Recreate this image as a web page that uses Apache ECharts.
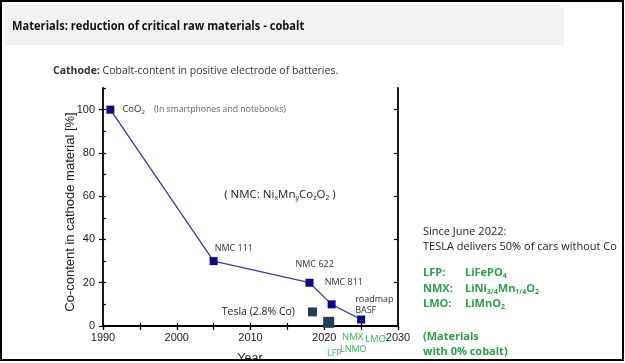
<!DOCTYPE html>
<html><head><meta charset="utf-8">
<script src="https://cdn.jsdelivr.net/npm/echarts@6/dist/echarts.min.js"></script>
<style>html,body{margin:0;padding:0;background:#fff}#c{width:625px;height:363px}</style>
</head><body><div id="c"></div>
<script>
// ---- data ----
const years = [1991, 2005, 2018, 2021, 2025];
const cobaltPct = [100, 30, 20, 10, 3];
const pointNames = ['{a|CoO}{s|2}{g|    (In smartphones and notebooks)}', 'NMC 111', 'NMC 622', 'NMC 811', 'roadmap\nBASF'];
const teslaYear = [2018.4];
const teslaPct = [6.5];
const lfpYear = [2020.6];
const lfpPct = [1.7];
const xTicks = [1990, 2000, 2010, 2020, 2030];
const yTicks = [0, 20, 40, 60, 80, 100];

// label placement (style, separate from data)
const labelOffsets = [[8, 0], [-3, -13], [-18, -18], [-11, -22], [-10, -15]];

const chart = echarts.init(document.getElementById('c'), null, {renderer: 'canvas'});
const FONT = 'Liberation Sans';
const SANS = 'Open Sans';
const green = '#2a9f48';
const green2 = '#3bb35e';
const AXW = 1.8;

const lineData = years.map((y, i) => ({
  value: [y, cobaltPct[i]],
  label: {
    show: true, position: 'right', distance: 0, offset: labelOffsets[i],
    formatter: pointNames[i], fontFamily: SANS, fontSize: 9, color: '#333', lineHeight: 11,
    rich: {
      a: {fontFamily: SANS, fontSize: 9.5, color: '#333'},
      s: {fontFamily: SANS, fontSize: 6, color: '#333', verticalAlign: 'bottom', padding: [6, 0, 0, 0]},
      g: {fontFamily: SANS, fontSize: 8.7, color: '#666'}
    }
  }
}));

const option = {
  animation: false,
  grid: {left: 103, top: 88, right: 227, bottom: 37},
  xAxis: [
    {type: 'value', min: 1990, max: 2030, interval: 10, position: 'bottom',
     axisLine: {lineStyle: {color: '#000', width: AXW}},
     axisTick: {inside: false, length: 4, lineStyle: {color: '#000', width: 1.2}, customValues: xTicks},
     axisLabel: {fontFamily: FONT, fontSize: 11, color: '#222', margin: 6, customValues: xTicks, formatter: v => String(v)},
     splitLine: {show: false}},
    {type: 'value', min: 1990, max: 2030, interval: 5, position: 'top',
     axisLine: {show: true, lineStyle: {color: '#000', width: AXW}},
     axisTick: {show: true, inside: true, length: 4, lineStyle: {color: '#000', width: 1.2}},
     axisLabel: {show: false}, splitLine: {show: false}},
    {type: 'value', min: 1990, max: 2030, interval: 5, position: 'bottom',
     axisLine: {show: false},
     axisTick: {show: true, inside: true, length: 3, lineStyle: {color: '#000', width: 1.2}},
     axisLabel: {show: false}, splitLine: {show: false}}
  ],
  yAxis: [
    {type: 'value', min: 0, max: 110, interval: 20, position: 'left',
     axisLine: {show: true, lineStyle: {color: '#000', width: AXW}},
     axisTick: {show: true, inside: false, length: 4, lineStyle: {color: '#000', width: 1.2}, customValues: yTicks},
     axisLabel: {fontFamily: FONT, fontSize: 11, color: '#222', margin: 8, customValues: yTicks},
     splitLine: {show: false}},
    {type: 'value', min: 0, max: 110, interval: 20, position: 'right',
     axisLine: {show: true, lineStyle: {color: '#000', width: AXW}},
     axisTick: {show: true, inside: true, length: 4, lineStyle: {color: '#000', width: 1.2}, customValues: yTicks},
     axisLabel: {show: false}, splitLine: {show: false}},
    {type: 'value', min: 0, max: 110, interval: 10, position: 'left',
     axisLine: {show: false},
     axisTick: {show: true, inside: true, length: 3, lineStyle: {color: '#000', width: 1.2}},
     axisLabel: {show: false}, splitLine: {show: false}}
  ],
  series: [
    {type: 'line', data: lineData, symbol: 'rect', symbolSize: 8,
     itemStyle: {color: '#0a0a86'}, lineStyle: {color: '#3a3aa2', width: 1.3}, z: 3},
    {type: 'scatter', data: teslaYear.map((y, i) => [y, teslaPct[i]]), symbol: 'rect', symbolSize: 9,
     itemStyle: {color: '#1f4058', opacity: 1},
     label: {show: true, position: 'left', distance: 13, formatter: 'Tesla (2.8% Co)', fontFamily: SANS, fontSize: 10.5, color: '#222'}},
    {type: 'scatter', data: lfpYear.map((y, i) => [y, lfpPct[i]]), symbol: 'rect', symbolSize: 11,
     itemStyle: {color: '#1f4058', opacity: 1}, clip: false}
  ],
  graphic: [
    {type: 'rect', shape: {x: 4, y: 5, width: 560, height: 40, r: [0, 8, 0, 0]}, style: {fill: '#f2f2f2'}, z: -1},
    {type: 'text', x: 12, y: 26, scaleX: 0.89, style: {x: 0, y: 0, text: 'Materials: reduction of critical raw materials - cobalt',
      font: 'bold 12.5px "Open Sans"', fill: '#111', textVerticalAlign: 'middle'}},
    {type: 'text', x: 53, y: 71, scaleX: 0.93, style: {x: 0, y: 0, text: '{b|Cathode:} Cobalt-content in positive electrode of batteries.',
      font: '11.3px "Open Sans"', fill: '#333', textVerticalAlign: 'middle',
      rich: {b: {font: 'bold 11.3px "Open Sans"', fill: '#333'}}}},
    {type: 'text', x: 70, y: 212, rotation: Math.PI / 2, style: {x: 0, y: 0, text: 'Co-content in cathode material [%]',
      font: '13px "Liberation Sans"', fill: '#222', textAlign: 'center', textVerticalAlign: 'middle'}},
    {type: 'text', style: {x: 280, y: 195, text: '( NMC: Ni{s|x}Mn{s|y}Co{s|z}O{s|2} )',
      font: '11.5px "Open Sans"', fill: '#222', textAlign: 'center', textVerticalAlign: 'middle',
      rich: {s: {font: '7px "Open Sans"', fill: '#222', padding: [6, 0, 0, 0]}}}},
    {type: 'text', style: {x: 342, y: 337, text: 'NMX', font: '9.5px "Open Sans"', fill: green2, textVerticalAlign: 'middle'}},
    {type: 'text', style: {x: 365, y: 339, text: 'LMO', font: '9.5px "Open Sans"', fill: green2, textVerticalAlign: 'middle'}},
    {type: 'text', style: {x: 327, y: 353, text: 'LFP', font: '9px "Open Sans"', fill: green2, textVerticalAlign: 'middle'}},
    {type: 'text', style: {x: 340, y: 349, text: 'LNMO', font: '9px "Open Sans"', fill: green2, textVerticalAlign: 'middle'}},
    {type: 'text', style: {x: 250, y: 359, text: 'Year', font: '12.5px "Liberation Sans"', fill: '#222', textAlign: 'center', textVerticalAlign: 'middle'}},
    {type: 'text', style: {x: 423, y: 232, text: 'Since June 2022:', font: '11px "Open Sans"', fill: '#222', textVerticalAlign: 'middle'}},
    {type: 'text', style: {x: 423, y: 247, text: 'TESLA delivers 50% of cars without Co', font: '11px "Open Sans"', fill: '#222', textVerticalAlign: 'middle'}},
    {type: 'text', style: {x: 423, y: 273, text: 'LFP:', font: 'bold 11px "Open Sans"', fill: green, textVerticalAlign: 'middle'}},
    {type: 'text', style: {x: 423, y: 289, text: 'NMX:', font: 'bold 11px "Open Sans"', fill: green, textVerticalAlign: 'middle'}},
    {type: 'text', style: {x: 423, y: 304, text: 'LMO:', font: 'bold 11px "Open Sans"', fill: green, textVerticalAlign: 'middle'}},
    {type: 'text', style: {x: 465, y: 273, text: 'LiFePO{s|4}', font: 'bold 11px "Open Sans"', fill: green, textVerticalAlign: 'middle',
      rich: {s: {font: 'bold 7px "Open Sans"', fill: green, padding: [6, 0, 0, 0]}}}},
    {type: 'text', style: {x: 465, y: 289, text: 'LiNi{s|3/4}Mn{s|1/4}O{s|2}', font: 'bold 11px "Open Sans"', fill: green, textVerticalAlign: 'middle',
      rich: {s: {font: 'bold 7px "Open Sans"', fill: green, padding: [6, 0, 0, 0]}}}},
    {type: 'text', style: {x: 465, y: 304, text: 'LiMnO{s|2}', font: 'bold 11px "Open Sans"', fill: green, textVerticalAlign: 'middle',
      rich: {s: {font: 'bold 7px "Open Sans"', fill: green, padding: [6, 0, 0, 0]}}}},
    {type: 'text', style: {x: 423, y: 337, text: '(Materials', font: 'bold 11px "Open Sans"', fill: green, textVerticalAlign: 'middle'}},
    {type: 'text', style: {x: 423, y: 352, text: 'with 0% cobalt)', font: 'bold 11px "Open Sans"', fill: green, textVerticalAlign: 'middle'}},
    {type: 'rect', shape: {x: 0, y: 361, width: 625, height: 2}, style: {fill: '#fff'}, z: 100},
    {type: 'rect', shape: {x: 1, y: 1, width: 622, height: 359}, style: {fill: 'none', stroke: '#000', lineWidth: 2}, z: 101}
  ]
};
chart.setOption(option);
</script></body></html>
